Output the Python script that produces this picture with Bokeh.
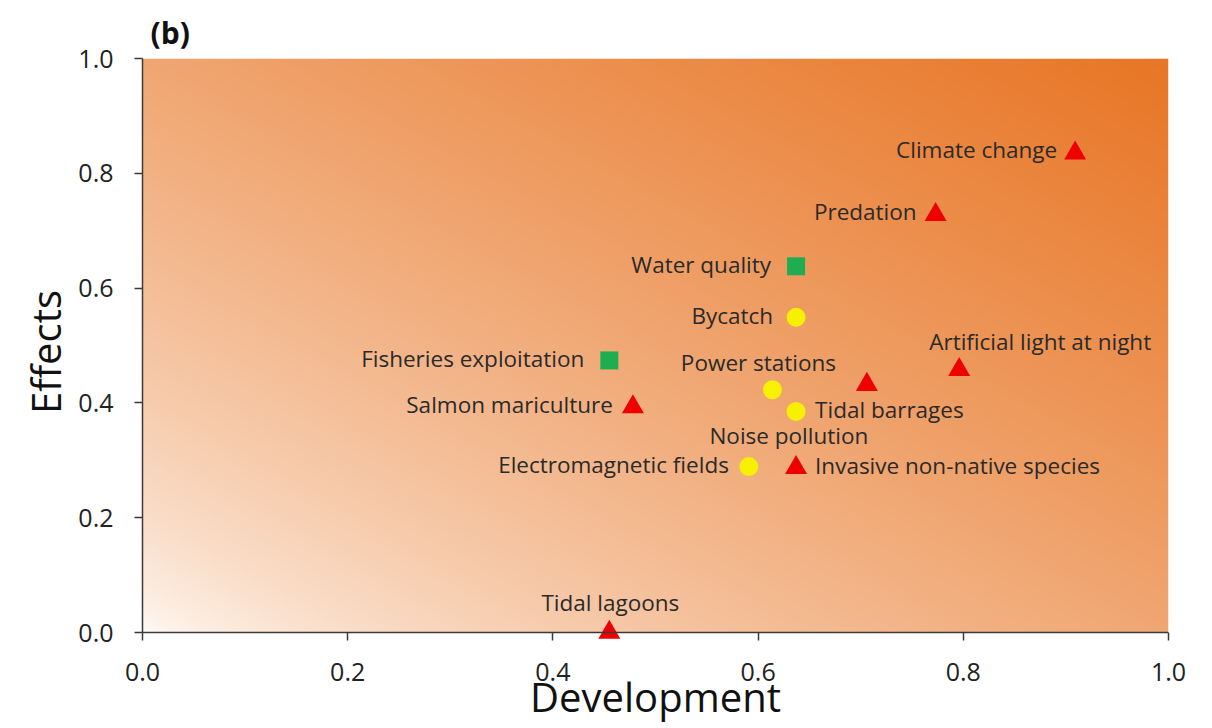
import numpy as np
from bokeh.plotting import figure
from bokeh.models import ColumnDataSource, Range1d, FixedTicker, CustomJSTickFormatter, Span
from bokeh.core.properties import value
from bokeh.embed import file_html
from bokeh.resources import INLINE

# ---- data ----
names = ["Climate change", "Predation", "Water quality", "Bycatch",
         "Fisheries exploitation", "Power stations", "Artificial light at night",
         "Noise pollution", "Tidal barrages", "Salmon mariculture",
         "Electromagnetic fields", "Invasive non-native species", "Tidal lagoons"]
development = [0.909, 0.773, 0.637, 0.637, 0.455, 0.614, 0.796, 0.706, 0.637, 0.478, 0.591, 0.637, 0.455]
effects = [0.835, 0.728, 0.638, 0.549, 0.474, 0.423, 0.458, 0.432, 0.385, 0.393, 0.289, 0.287, 0.0]
kind = ["triangle", "triangle", "square", "circle", "square", "circle", "triangle",
        "triangle", "circle", "triangle", "circle", "triangle", "triangle"]
ticks = [0.0, 0.2, 0.4, 0.6, 0.8, 1.0]

# ---- label placement (layout only) ----
lab_dx = [-18, -19, -25, -23, -25, -14, 81, -78, 19, -20, -20, 19, 1]
lab_dy = [-4, -3, -2, -2, -2, -27, -28, 51, -2, -2, -2, -2, -30]
lab_align = ["right", "right", "right", "right", "right", "center", "center",
             "center", "left", "right", "right", "left", "center"]

FONT = "Open Sans"
PAD = 13 / 574.0  # small white strip below the x axis so markers at 0 are not cut

p = figure(width=1204, height=728, x_range=Range1d(0, 1), y_range=Range1d(-PAD, 1),
           output_backend="svg", toolbar_location=None,
           min_border_left=142, min_border_right=36, min_border_top=58, min_border_bottom=83)
p.outline_line_color = None
p.background_fill_color = "white"
p.border_fill_color = "white"
p.xgrid.visible = False
p.ygrid.visible = False

p.title.text = "(b)"
p.title.align = "left"
p.title.offset = 8
p.title.text_font = FONT
p.title.text_font_size = "30px"
p.title.text_font_style = "bold"
p.title.text_color = "#111111"
p.title.standoff = 12

# gradient background (style)
nx, ny = 300, 200
u = np.linspace(0, 1, nx)[None, :]
v = np.linspace(0, 1, ny)[:, None]
t = np.clip((u + v) / 2.0, 0, 1) ** 0.65
c0 = np.array([255, 252, 249])
c1 = np.array([232, 118, 38])
img = np.empty((ny, nx), dtype=np.uint32)
view = img.view(dtype=np.uint8).reshape((ny, nx, 4))
for k in range(3):
    view[:, :, k] = (c0[k] * (1 - t) + c1[k] * t).astype(np.uint8)
view[:, :, 3] = 255
p.image_rgba(image=[img], x=0, y=0, dw=1, dh=1)

# x axis line at y = 0
p.add_layout(Span(location=0, dimension="width", line_color="#3a3a3a",
                  line_width=1.5, level="glyph"))

colors = {"triangle": "#ee0000", "square": "#1fae4f", "circle": "#f7f000"}
sizes = {"triangle": 22, "square": 18, "circle": 19}
src = ColumnDataSource(dict(
    x=development, y=effects, name=names, marker=kind,
    color=[colors[k] for k in kind], size=[sizes[k] for k in kind],
    dx=lab_dx, dy=lab_dy, align=lab_align))

p.scatter(x="x", y="y", marker="marker", size="size", fill_color="color",
          line_color=None, source=src)
p.text(x="x", y="y", text="name", x_offset="dx", y_offset="dy", text_align="align",
       text_baseline="middle", text_font=value(FONT), text_font_size="22.5px",
       text_color="#2a2a2a", source=src)

fmt = CustomJSTickFormatter(code="return tick.toFixed(1);")
for ax in (p.xaxis[0], p.yaxis[0]):
    ax.ticker = FixedTicker(ticks=ticks)
    ax.formatter = fmt
    ax.minor_tick_line_color = None
    ax.axis_line_color = "#3a3a3a"
    ax.axis_line_width = 1.5
    ax.major_tick_line_color = "#3a3a3a"
    ax.major_tick_line_width = 1.5
    ax.major_label_text_font = FONT
    ax.major_label_text_font_size = "25px"
    ax.major_label_text_color = "#222222"
    ax.axis_label_text_font = FONT
    ax.axis_label_text_font_style = "normal"
    ax.axis_label_text_color = "#111111"
    ax.axis_label_text_font_size = "40px"

p.yaxis[0].major_tick_in = 0
p.yaxis[0].major_tick_out = 8
p.yaxis[0].bounds = (0, 1)
p.xaxis[0].axis_line_color = None
p.xaxis[0].major_tick_in = 13
p.xaxis[0].major_tick_out = -5

p.xaxis[0].axis_label = "Development"
p.yaxis[0].axis_label = "Effects"
p.yaxis[0].major_label_standoff = 21
p.xaxis[0].major_label_standoff = 17
p.yaxis[0].axis_label_standoff = 2
p.xaxis[0].axis_label_standoff = -15

open("out.html", "w").write(file_html(p, INLINE))
